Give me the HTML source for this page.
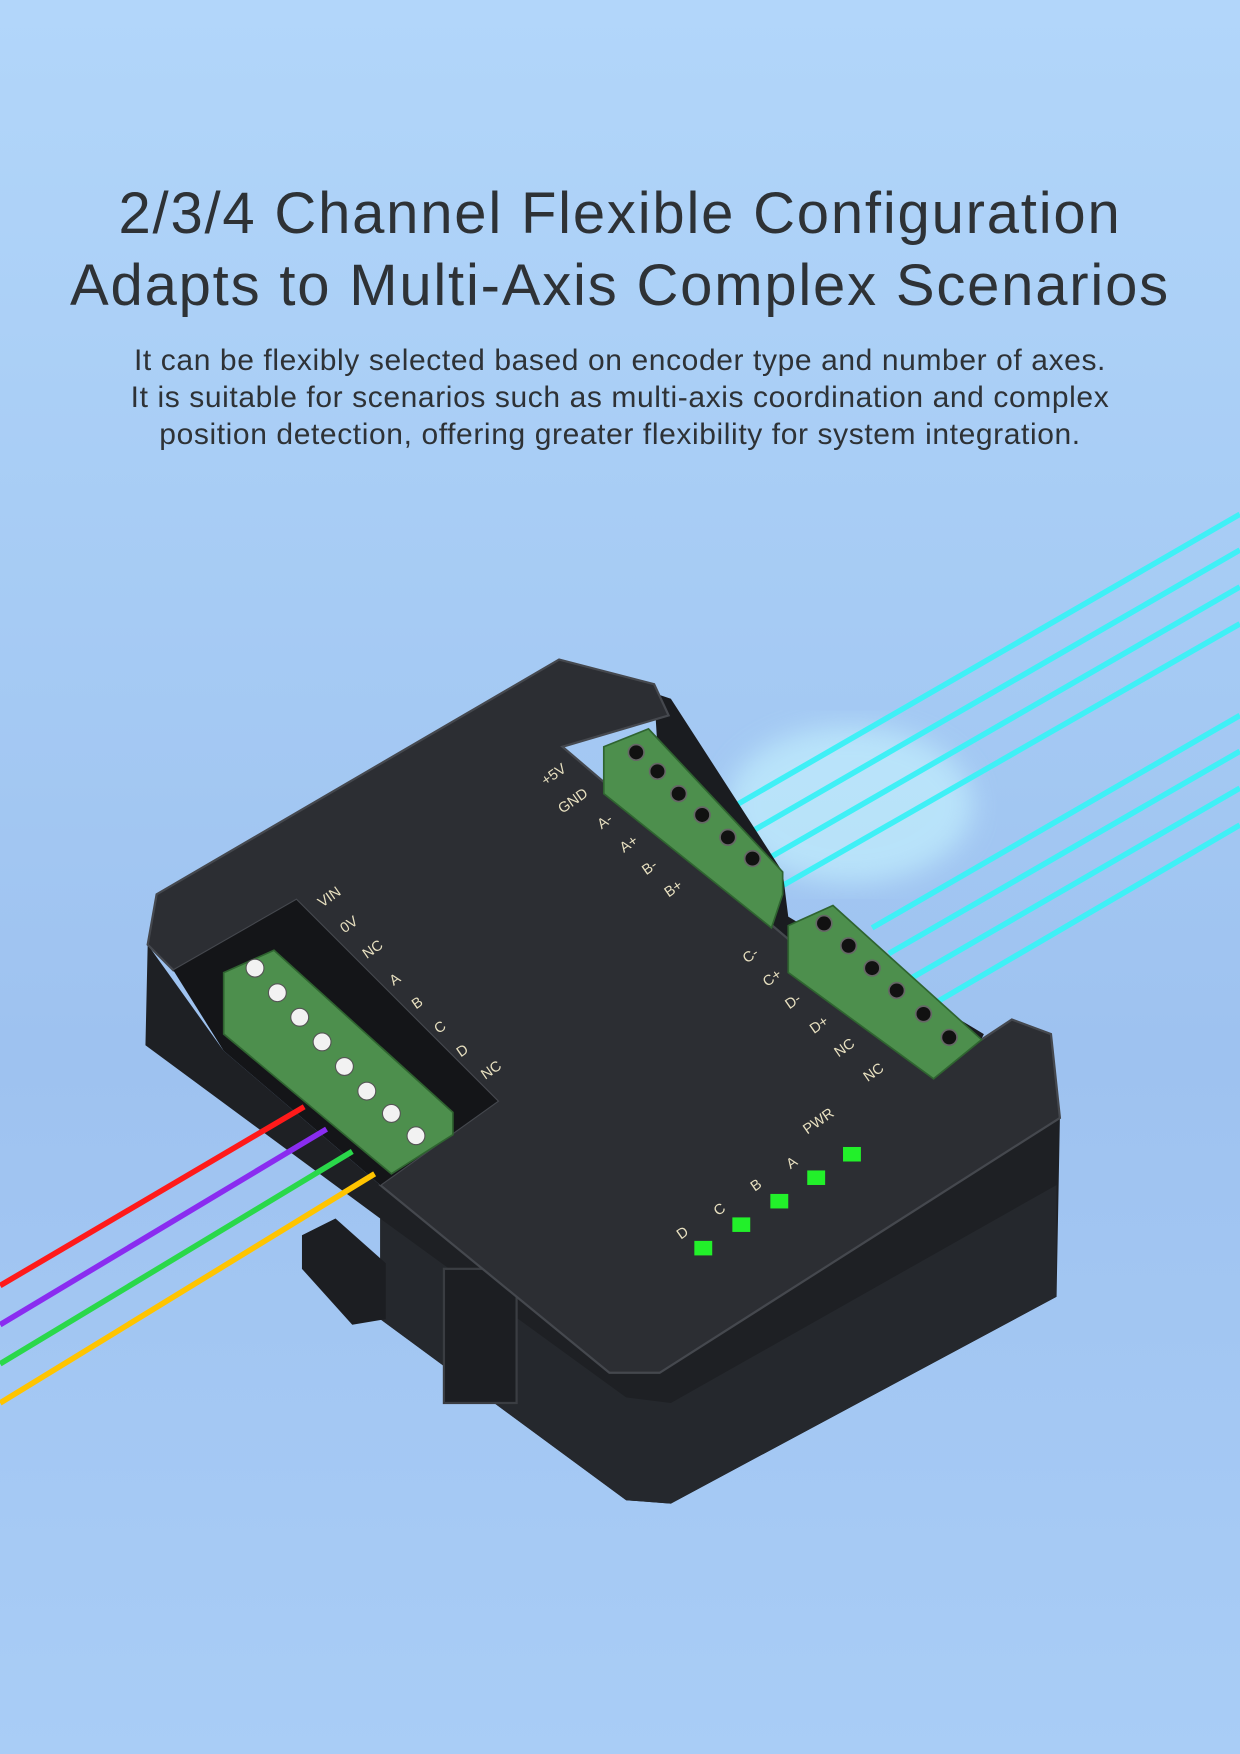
<!DOCTYPE html>
<html><head><meta charset="utf-8"><style>
html,body{margin:0;padding:0}
body{width:1240px;height:1754px;overflow:hidden;position:relative;font-family:"Liberation Sans",sans-serif;
background:linear-gradient(180deg,#b2d6fa 0%,#a6cbf4 35%,#9ec2f0 60%,#a9cdf6 100%);}
h1{position:absolute;left:0;width:1240px;top:178px;margin:0;text-align:center;font-size:58px;font-weight:normal;color:#2e3236;line-height:72px;letter-spacing:1.8px}
p{position:absolute;left:0;width:1240px;top:342px;margin:0;text-align:center;font-size:30px;color:#2e3236;line-height:37px;letter-spacing:0.6px}
svg{position:absolute;left:0;top:0}
</style></head><body>
<h1>2/3/4 Channel Flexible Configuration<br>Adapts to Multi-Axis Complex Scenarios</h1>
<p>It can be flexibly selected based on encoder type and number of axes.<br>It is suitable for scenarios such as multi-axis coordination and complex<br>position detection, offering greater flexibility for system integration.</p>
<svg width="1240" height="1754" viewBox="0 0 1109 1569">
<defs><filter id="g"><feGaussianBlur stdDeviation="12"/></filter></defs>
<ellipse cx="760" cy="720" rx="110" ry="70" fill="#c8f6ff" opacity="0.6" filter="url(#g)"/>
<!-- cyan lines -->
<g stroke="#3ff0f6" stroke-width="5">
<line x1="1109" y1="460" x2="650" y2="725"/>
<line x1="1109" y1="492" x2="665" y2="748"/>
<line x1="1109" y1="525" x2="680" y2="772"/>
<line x1="1109" y1="558" x2="695" y2="795"/>
<line x1="1109" y1="640" x2="780" y2="830"/>
<line x1="1109" y1="672" x2="795" y2="853"/>
<line x1="1109" y1="705" x2="815" y2="875"/>
<line x1="1109" y1="738" x2="835" y2="898"/>
</g>
<!-- body sides -->
<polygon points="132,845 130,935 340,1090 340,1180 560,1342 600,1345 945,1160 948,1000 590,1228 545,1228 340,1060 200,940" fill="#1e2024"/>
<polygon points="340,1090 560,1250 600,1255 945,1060 945,1160 600,1345 560,1342 340,1180" fill="#25282d"/>
<rect x="397" y="1135" width="65" height="120" fill="#1c1e22" stroke="#3a3d42" stroke-width="2"/>
<polygon points="270,1105 300,1090 345,1130 345,1180 315,1185 270,1135" fill="#1c1e22"/>
<!-- right wall behind blocks -->
<polygon points="585,620 600,625 700,780 705,820 880,925 870,945 700,840 590,700" fill="#1a1c20"/>
<!-- top face -->
<polygon points="140,800 500,590 585,612 598,640 503,668 840,955 905,912 940,925 948,1000 590,1228 545,1228 340,1060 445,985 265,805 155,868 132,845" fill="#2c2e33" stroke="#45484e" stroke-width="2"/>
<!-- left notch interior -->
<polygon points="155,868 265,805 445,985 340,1060 200,940" fill="#141518"/>
<!-- terminal blocks -->
<g fill="#4d8f4d" stroke="#2f6430" stroke-width="1.5">
<polygon points="200,870 245,850 405,995 405,1015 350,1050 200,925"/>
<polygon points="540,668 580,652 700,780 700,800 690,830 540,710"/>
<polygon points="705,828 745,810 878,930 835,965 705,870"/>
</g>
<g fill="#f2f2f2" stroke="#555" stroke-width="1">
<circle cx="228" cy="866" r="8"/><circle cx="248" cy="888" r="8"/><circle cx="268" cy="910" r="8"/><circle cx="288" cy="932" r="8"/><circle cx="308" cy="954" r="8"/><circle cx="328" cy="976" r="8"/><circle cx="350" cy="996" r="8"/><circle cx="372" cy="1016" r="8"/>
</g>
<g fill="#111" stroke="#666" stroke-width="1.5">
<circle cx="569" cy="673" r="7"/><circle cx="588" cy="690" r="7"/><circle cx="607" cy="710" r="7"/><circle cx="628" cy="729" r="7"/><circle cx="651" cy="749" r="7"/><circle cx="673" cy="768" r="7"/>
<circle cx="737" cy="826" r="7"/><circle cx="759" cy="846" r="7"/><circle cx="780" cy="866" r="7"/><circle cx="802" cy="886" r="7"/><circle cx="826" cy="907" r="7"/><circle cx="849" cy="928" r="7"/>
</g>
<!-- wires -->
<g stroke-width="5" fill="none">
<line x1="0" y1="1150" x2="272" y2="990" stroke="#ff1a1a"/>
<line x1="0" y1="1185" x2="292" y2="1010" stroke="#8a2cf0"/>
<line x1="0" y1="1220" x2="315" y2="1030" stroke="#2ad84a"/>
<line x1="0" y1="1255" x2="335" y2="1050" stroke="#ffc400"/>
</g>
<!-- labels -->
<g fill="#e8e0c0" font-family="Liberation Sans,sans-serif" font-size="13">
<text transform="translate(288,812) rotate(-35)">VIN</text>
<text transform="translate(308,835) rotate(-35)">0V</text>
<text transform="translate(328,858) rotate(-35)">NC</text>
<text transform="translate(352,882) rotate(-35)">A</text>
<text transform="translate(372,903) rotate(-35)">B</text>
<text transform="translate(392,925) rotate(-35)">C</text>
<text transform="translate(412,946) rotate(-35)">D</text>
<text transform="translate(434,966) rotate(-35)">NC</text>
<text transform="translate(488,703) rotate(-35)">+5V</text>
<text transform="translate(503,728) rotate(-35)">GND</text>
<text transform="translate(538,742) rotate(-35)">A-</text>
<text transform="translate(558,763) rotate(-35)">A+</text>
<text transform="translate(578,783) rotate(-35)">B-</text>
<text transform="translate(598,803) rotate(-35)">B+</text>
<text transform="translate(668,862) rotate(-35)">C-</text>
<text transform="translate(686,883) rotate(-35)">C+</text>
<text transform="translate(706,903) rotate(-35)">D-</text>
<text transform="translate(728,925) rotate(-35)">D+</text>
<text transform="translate(750,946) rotate(-35)">NC</text>
<text transform="translate(776,968) rotate(-35)">NC</text>
<text transform="translate(722,1015) rotate(-35)">PWR</text>
<text transform="translate(707,1046) rotate(-35)">A</text>
<text transform="translate(675,1066) rotate(-35)">B</text>
<text transform="translate(642,1088) rotate(-35)">C</text>
<text transform="translate(609,1109) rotate(-35)">D</text>
</g>
<g fill="#22f02a">
<rect x="754" y="1026" width="16" height="13"/><rect x="722" y="1047" width="16" height="13"/><rect x="689" y="1068" width="16" height="13"/><rect x="655" y="1089" width="16" height="13"/><rect x="621" y="1110" width="16" height="13"/>
</g>
</svg>
</body></html>
